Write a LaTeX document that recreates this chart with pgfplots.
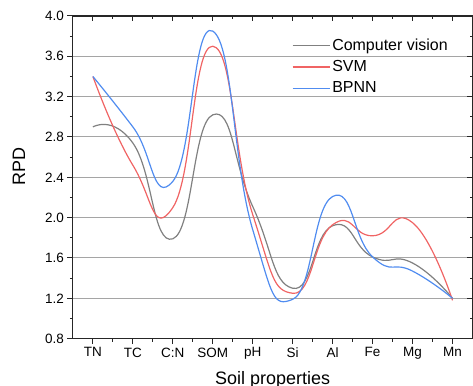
\documentclass[border=0pt]{standalone}
\usepackage{pgfplots}
\pgfplotsset{compat=1.18}
\usepackage{fontspec}
\setmainfont{Liberation Sans}
\definecolor{cvgray}{RGB}{128,128,128}
\definecolor{svmred}{RGB}{240,100,100}
\definecolor{bpblue}{RGB}{80,140,240}
\definecolor{gridgray}{RGB}{165,165,165}
\begin{document}
\begin{tikzpicture}
\begin{axis}[
  scale only axis, width=400pt, height=323pt,
  xmin=-0.5, xmax=9.5, ymin=0.8, ymax=4.0,
  xtick={0,...,9},
  xticklabels={TN,TC,C:N,SOM,pH,Si,Al,Fe,Mg,Mn},
  ytick={0.8,1.2,...,4.01},
  yticklabel style={/pgf/number format/.cd,fixed,fixed zerofill,precision=1},
  /pgf/number format/assume math mode=true,
  minor x tick num=1, minor y tick num=1,
  xtick pos=bottom, ytick pos=left,
  tick align=outside,
  major tick length=5.5pt, minor tick length=3pt,
  axis line style={line width=1.1pt, black!85},
  tick style={line width=1.0pt, black!85},
  ymajorgrids, grid style={line width=1.0pt, gridgray},
  ticklabel style={font=\fontsize{13.5}{14}\selectfont},
  xlabel={Soil properties}, ylabel={RPD},
  label style={font=\fontsize{18}{18}\selectfont},
  xlabel style={at={(axis description cs:0.5,0)}, anchor=north, yshift=-33pt, inner sep=0pt},
  ylabel style={at={(axis description cs:-0.135,0.532)}, anchor=center, rotate=0},
  legend style={at={(axis description cs:0.548,0.935)}, anchor=north west, draw=none, fill=none,
    font=\fontsize{16}{16}\selectfont, row sep=4.5pt, inner sep=0pt},
  legend cell align=left,
  legend image code/.code={\draw[#1, line width=1.2pt] (0pt,0pt) -- (37pt,0pt);},
  every axis plot/.append style={smooth, tension=0.9, line width=1.2pt, no markers},
  clip=false,
]
\addplot[svmred!0!cvgray, draw=cvgray] coordinates {(0,2.90) (1,2.74) (2,1.79) (3,3.02) (4,2.11) (5,1.30) (6,1.92) (7,1.61) (8,1.55) (9,1.20)};
\addlegendentry{Computer vision}
\addplot[draw=svmred] coordinates {(0,3.40) (1,2.52) (2,2.10) (3,3.70) (4,2.03) (5,1.25) (6,1.93) (7,1.82) (8,1.95) (9,1.18)};
\addlegendentry{SVM}
\addplot[draw=bpblue] coordinates {(0,3.40) (1,2.90) (2,2.36) (3,3.85) (4,1.88) (5,1.19) (6,2.21) (7,1.61) (8,1.47) (9,1.20)};
\addlegendentry{BPNN}
\end{axis}
\begin{axis}[
  scale only axis, width=400pt, height=323pt,
  xmin=-0.5, xmax=9.5, ymin=0.8, ymax=4.0,
  xtick={0,...,9}, ytick={0.8,1.2,...,4.01},
  minor x tick num=1, minor y tick num=1,
  xtick pos=top, ytick pos=right,
  tick align=inside,
  xticklabels={}, yticklabels={},
  major tick length=5.5pt, minor tick length=3pt,
  axis line style={line width=1.1pt, black!85},
  tick style={line width=1.0pt, black!85},
]
\end{axis}
\pgfresetboundingbox
\useasboundingbox (-73pt,-47pt) rectangle (400.5pt,339pt);
\end{tikzpicture}
\end{document}
